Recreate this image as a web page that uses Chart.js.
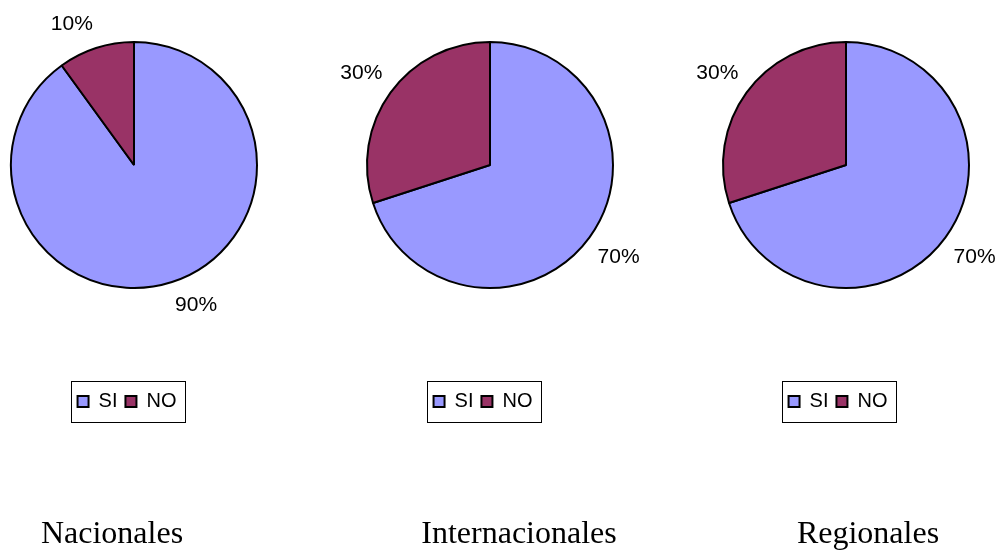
<!DOCTYPE html>
<html lang="es">
<head>
<meta charset="utf-8">
<title>SI / NO</title>
<script src="https://cdn.jsdelivr.net/npm/chart.js@4.4.1/dist/chart.umd.min.js"></script>
<style>
  html, body { margin: 0; padding: 0; background: #fff; }
  body { width: 996px; height: 551px; position: relative; overflow: hidden; }
  canvas { position: absolute; top: 0; }
</style>
</head>
<body>
<canvas id="pie-nacionales" width="356" height="551"></canvas>
<canvas id="pie-internacionales" width="356" height="551"></canvas>
<canvas id="pie-regionales" width="356" height="551"></canvas>
<script>
const CATEGORIES = ["SI", "NO"];
const NACIONALES = [90, 10];
const INTERNACIONALES = [70, 30];
const REGIONALES = [70, 30];
const TITLES = ["Nacionales", "Internacionales", "Regionales"];
const COLORS = ["#9999ff", "#993366"];

const SANS = 'Arial, "Liberation Sans", sans-serif';
const SERIF = '"Times New Roman", "Liberation Serif", serif';

// one canvas per pie; cx is the pie centre on the page,
// legendX / titleX are centres inside the canvas
const PANELS = [
  { id: "pie-nacionales", values: NACIONALES, title: TITLES[0], cx: 134, legendX: 171, titleX: 156 },
  { id: "pie-internacionales", values: INTERNACIONALES, title: TITLES[1], cx: 490, legendX: 171, titleX: 207 },
  { id: "pie-regionales", values: REGIONALES, title: TITLES[2], cx: 846, legendX: 170, titleX: 200 },
];

// moves legend and title blocks to fixed spots after the layout pass,
// then frames the legend entries
const placeBoxes = {
  id: "placeBoxes",
  afterLayout(chart, args, opts) {
    const move = (box, at) => {
      if (!box || !at) return;
      const dx = at.x - (box.left + box.right) / 2;
      const dy = at.y - (box.top + box.bottom) / 2;
      box.left += dx; box.right += dx;
      box.top += dy; box.bottom += dy;
    };
    move(chart.legend, opts.legend);
    move(chart.titleBlock, opts.title);
  },
  afterDraw(chart, args, opts) {
    const hb = chart.legend && chart.legend.legendHitBoxes;
    if (!hb || !hb.length) return;
    const first = hb[0];
    const last = hb[hb.length - 1];
    const left = Math.round(first.left - 7) + 0.5;
    const right = Math.round(last.left + last.width + 9) + 0.5;
    const mid = first.top + first.height / 2;
    const top = Math.round(mid - 20.5) + 0.5;
    const ctx = chart.ctx;
    ctx.save();
    ctx.strokeStyle = opts.frameColor;
    ctx.lineWidth = 1;
    ctx.strokeRect(left, top, right - left, 41);
    ctx.restore();
  },
};

// percentage text just outside each slice, nearest corner on the mid-angle ray
const sliceLabels = {
  id: "sliceLabels",
  afterDatasetsDraw(chart, args, opts) {
    const ctx = chart.ctx;
    const meta = chart.getDatasetMeta(0);
    const values = chart.data.datasets[0].data;
    ctx.save();
    ctx.font = opts.font;
    ctx.fillStyle = opts.color;
    ctx.textAlign = "center";
    ctx.textBaseline = "middle";
    meta.data.forEach((arc, i) => {
      const p = arc.getProps(["x", "y", "startAngle", "endAngle", "outerRadius"], true);
      const mid = (p.startAngle + p.endAngle) / 2;
      const ux = Math.cos(mid);
      const uy = Math.sin(mid);
      const text = values[i] + "%";
      const hw = ctx.measureText(text).width / 2;
      const r = p.outerRadius + opts.gap;
      ctx.fillText(text,
        p.x + ux * r + Math.sign(ux) * hw,
        p.y + uy * r + Math.sign(uy) * opts.halfHeight);
    });
    ctx.restore();
  },
};

function pieChart(panel) {
  const canvas = document.getElementById(panel.id);
  canvas.style.left = (panel.cx - canvas.width / 2) + "px";
  return new Chart(canvas, {
    type: "pie",
    data: {
      labels: CATEGORIES,
      datasets: [{
        data: panel.values,
        backgroundColor: COLORS,
        borderColor: "#000",
        borderWidth: 2,
      }],
    },
    options: {
      responsive: false,
      animation: false,
      // chart area 248 x 248 starting at y = 41; legend (38) + title (38.4) sit below
      layout: { padding: { left: 54, right: 54, top: 41, bottom: 185.6 } },
      plugins: {
        legend: {
          position: "bottom",
          labels: {
            boxWidth: 11,
            boxHeight: 11,
            padding: 8,
            color: "#000",
            font: { family: SANS, size: 20 },
          },
        },
        title: {
          display: true,
          text: panel.title,
          position: "bottom",
          padding: 0,
          color: "#000",
          font: { family: SERIF, size: 32, weight: "normal" },
        },
        tooltip: { enabled: false },
        placeBoxes: {
          legend: { x: panel.legendX, y: 402.5 },
          title: { x: panel.titleX, y: 535 },
          frameColor: "#000",
        },
        sliceLabels: {
          gap: 10,
          halfHeight: 14,
          color: "#000",
          font: "21px " + SANS,
        },
      },
    },
    plugins: [placeBoxes, sliceLabels],
  });
}

PANELS.forEach(pieChart);
</script>
</body>
</html>
